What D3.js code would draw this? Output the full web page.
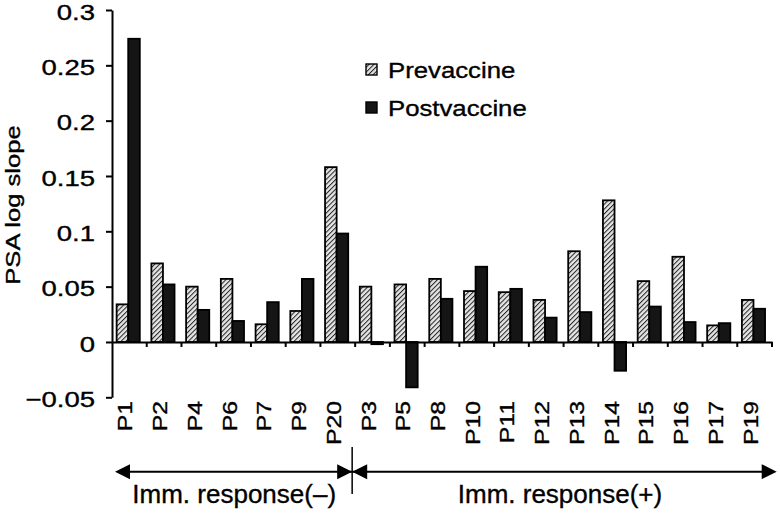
<!DOCTYPE html>
<html>
<head>
<meta charset="utf-8">
<script src="https://cdn.jsdelivr.net/npm/d3@7/dist/d3.min.js"></script>
<style>
  html, body { margin: 0; padding: 0; background: #fff; }
  svg { display: block; font-family: "Liberation Sans", Arial, Helvetica, sans-serif; }
  svg text { stroke: #000; stroke-width: 0.35px; }
</style>
</head>
<body>
<svg id="chart" width="780" height="515"></svg>
<script>
// ---- data ----
const categories = ["P1","P2","P4","P6","P7","P9","P20","P3","P5","P8","P10","P11","P12","P13","P14","P15","P16","P17","P19"];
const prevaccine  = [0.034, 0.071, 0.050, 0.057, 0.016, 0.028, 0.158, 0.050, 0.052, 0.057, 0.046, 0.045, 0.038, 0.082, 0.128, 0.055, 0.077, 0.015, 0.038];
const postvaccine = [0.274, 0.052, 0.029, 0.019, 0.036, 0.057, 0.098, -0.002, -0.041, 0.039, 0.068, 0.048, 0.022, 0.027, -0.026, 0.032, 0.018, 0.017, 0.030];
const seriesNames = ["Prevaccine", "Postvaccine"];
const yTicks = [-0.05, 0, 0.05, 0.1, 0.15, 0.2, 0.25, 0.3];
const yTickLabels = ["\u22120.05", "0", "0.05", "0.1", "0.15", "0.2", "0.25", "0.3"];
const groupLabels = ["Imm. response(\u2013)", "Imm. response(+)"];
const groupSizes = [7, 12];
const yTitle = "PSA log slope";

// ---- layout ----
const svg = d3.select("#chart");
const mLeft = 112, mRight = 772, mTop = 10, mBottom = 397.3;

const y = d3.scaleLinear().domain([-0.05, 0.3]).range([mBottom, mTop]);
const x = d3.scaleBand().domain(categories).range([mLeft, mRight]).padding(0);
const x1 = d3.scaleBand().domain(seriesNames).range([0, x.bandwidth()])
  .paddingInner(0).paddingOuter(0.5).align(0.4);

// hatch pattern
const defs = svg.append("defs");
const pat = defs.append("pattern").attr("id", "hatch")
  .attr("patternUnits", "userSpaceOnUse").attr("width", 3.4).attr("height", 3.4)
  .attr("patternTransform", "rotate(45)");
pat.append("rect").attr("width", 3.4).attr("height", 3.4).attr("fill", "#e4e4e4");
pat.append("line").attr("x1", 0).attr("y1", 0).attr("x2", 0).attr("y2", 3.4)
  .attr("stroke", "#222").attr("stroke-width", 2);

// bars
const rows = categories.map((c, i) => ({ c, vals: [prevaccine[i], postvaccine[i]] }));
const g = svg.append("g");
rows.forEach(r => {
  r.vals.forEach((v, j) => {
    g.append("rect")
      .attr("x", x(r.c) + x1(seriesNames[j]))
      .attr("width", x1.bandwidth())
      .attr("y", y(Math.max(0, v)))
      .attr("height", Math.abs(y(v) - y(0)))
      .attr("fill", j === 0 ? "url(#hatch)" : "#151515")
      .attr("stroke", "#000").attr("stroke-width", 1.8);
  });
});

// y axis
const yAxis = svg.append("g").attr("transform", `translate(${mLeft},0)`)
  .call(d3.axisLeft(y).tickValues(yTicks).tickSize(6).tickSizeOuter(0)
    .tickFormat((d, i) => yTickLabels[i]));
yAxis.select(".domain").attr("stroke", "#000").attr("stroke-width", 2);
yAxis.selectAll(".tick line").attr("stroke", "#000").attr("stroke-width", 2);
yAxis.selectAll(".tick text")
  .attr("x", 0).attr("dy", "0.42em")
  .attr("transform", "translate(-17,0) scale(1.25,1)")
  .attr("font-size", 22).attr("fill", "#000")
  .attr("font-family", "'Liberation Sans', Arial, sans-serif");

// x axis along zero line
const xAxis = svg.append("g").attr("transform", `translate(0,${y(0)})`)
  .call(d3.axisBottom(x).tickSize(0).tickSizeOuter(0));
xAxis.select(".domain").attr("stroke", "#000").attr("stroke-width", 2);
xAxis.selectAll(".tick text")
  .attr("x", 0).attr("y", 0).attr("dy", 0)
  .attr("text-anchor", "end")
  .attr("transform", `translate(3,${401 - y(0)}) rotate(-90) scale(1.24,1)`)
  .attr("font-size", 20).attr("fill", "#000")
  .attr("font-family", "'Liberation Sans', Arial, sans-serif");
// boundary ticks between categories
xAxis.append("g").selectAll("line").data(categories).join("line")
  .attr("x1", d => x(d) + x.step()).attr("x2", d => x(d) + x.step())
  .attr("y1", 0).attr("y2", 5)
  .attr("stroke", "#000").attr("stroke-width", 2);

// y title
svg.append("text")
  .attr("transform", `translate(20,205) rotate(-90) scale(1.22,1)`)
  .attr("text-anchor", "middle")
  .attr("font-size", 21).attr("fill", "#000")
  .text(yTitle);

// legend
const lg = svg.append("g");
seriesNames.forEach((s, i) => {
  const ly = [64, 102][i];
  lg.append("rect").attr("x", 366).attr("y", ly).attr("width", 11).attr("height", 11)
    .attr("fill", i === 0 ? "url(#hatch)" : "#151515")
    .attr("stroke", "#000").attr("stroke-width", 1.4);
  lg.append("text")
    .attr("transform", `translate(388,${ly + 13.5}) scale(1.17,1)`)
    .attr("font-size", 22).attr("fill", "#000")
    .text(s);
});

// group annotation arrows
const arrowY = 471.7;
const split = x(categories[groupSizes[0]]) - 3;
const startX = 115, endX = 776.7;
const ann = svg.append("g");
ann.append("line").attr("x1", startX + 10).attr("x2", endX - 10)
  .attr("y1", arrowY).attr("y2", arrowY).attr("stroke", "#000").attr("stroke-width", 2);
function tri(tipX, dir) {
  const L = 15, H = 7.5;
  ann.append("path")
    .attr("d", `M${tipX},${arrowY} L${tipX - dir * L},${arrowY - H} L${tipX - dir * L},${arrowY + H} Z`)
    .attr("fill", "#000");
}
tri(startX, -1);
tri(split, 1);
tri(split, -1);
tri(endX, 1);
ann.append("line").attr("x1", split).attr("x2", split)
  .attr("y1", 447).attr("y2", 494).attr("stroke", "#000").attr("stroke-width", 1.5);
ann.append("text").attr("x", (131.7 + 336.7) / 2).attr("y", 503)
  .attr("text-anchor", "middle").attr("font-size", 26).attr("fill", "#000")
  .text(groupLabels[0]);
ann.append("text").attr("x", 560).attr("y", 503)
  .attr("text-anchor", "middle").attr("font-size", 26).attr("fill", "#000")
  .text(groupLabels[1]);
</script>
</body>
</html>
